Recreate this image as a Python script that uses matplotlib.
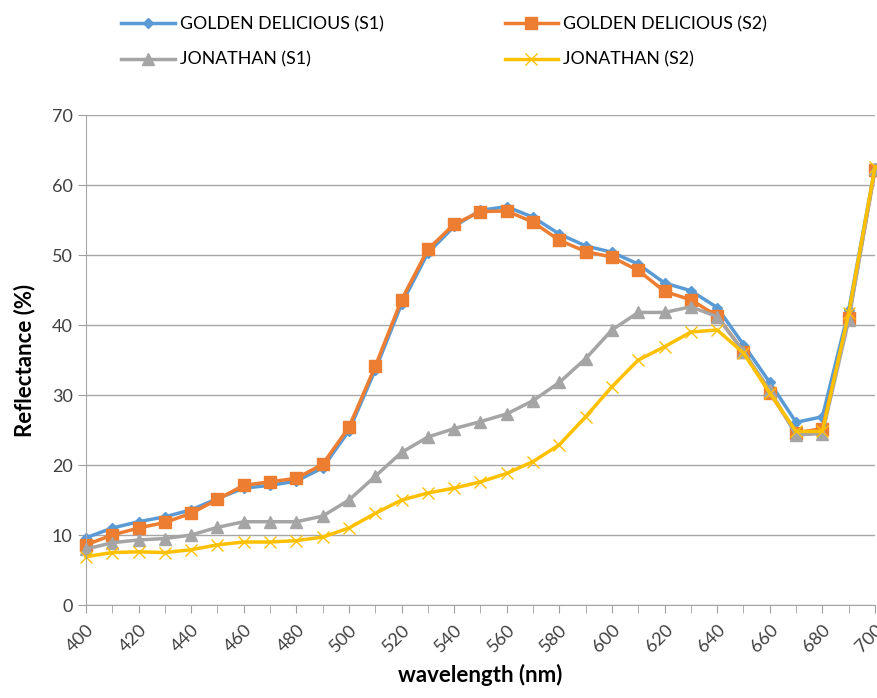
import matplotlib.pyplot as plt
import numpy as np

wavelength = list(range(400, 701, 10))

gd_s1 = [9.6, 11.0, 11.9, 12.6, 13.6, 15.2, 16.7, 17.1, 17.7, 19.6, 24.9, 33.6, 43.0, 50.3, 54.1,
         56.4, 56.9, 55.4, 53.0, 51.3, 50.4, 48.7, 46.0, 44.9, 42.5, 37.2, 31.8, 26.1, 26.9, 42.1, 62.5]
gd_s2 = [8.6, 10.0, 11.0, 11.8, 13.1, 15.1, 17.1, 17.6, 18.1, 20.1, 25.4, 34.1, 43.6, 50.8, 54.4,
         56.2, 56.3, 54.7, 52.1, 50.5, 49.7, 47.8, 44.8, 43.6, 41.3, 36.2, 30.3, 24.6, 25.2, 41.0, 62.1]
jon_s1 = [8.0, 8.9, 9.3, 9.5, 10.0, 11.1, 11.9, 11.9, 11.9, 12.7, 15.0, 18.4, 21.8, 24.0, 25.2,
          26.2, 27.3, 29.2, 31.8, 35.2, 39.3, 41.8, 41.8, 42.6, 41.2, 36.2, 30.7, 24.3, 24.5, 40.7, 62.3]
jon_s2 = [6.9, 7.5, 7.6, 7.5, 7.9, 8.6, 9.0, 9.0, 9.2, 9.7, 11.0, 13.1, 15.0, 16.0, 16.7,
          17.6, 18.8, 20.5, 22.9, 26.9, 31.2, 35.0, 36.9, 39.0, 39.3, 36.0, 30.3, 24.8, 24.8, 41.7, 62.6]

plt.rcParams['font.family'] = ['Lato', 'DejaVu Sans']

fig = plt.figure(figsize=(8.77, 6.98), dpi=100)
ax = fig.add_axes([0.098, 0.1332, 0.8997, 0.702])

ax.plot(wavelength, gd_s1, color='#5B9BD5', lw=2.5, marker='D', ms=5, label='GOLDEN DELICIOUS (S1)', clip_on=False)
ax.plot(wavelength, gd_s2, color='#ED7D31', lw=2.5, marker='s', ms=8, label='GOLDEN DELICIOUS (S2)', clip_on=False)
ax.plot(wavelength, jon_s1, color='#A5A5A5', lw=2.5, marker='^', ms=8, label='JONATHAN (S1)', clip_on=False)
ax.plot(wavelength, jon_s2, color='#FFC000', lw=2.5, marker='x', ms=8, mew=1, label='JONATHAN (S2)', clip_on=False)

ax.set_xlim(400, 700)
ax.set_ylim(0, 70)
ax.set_xticks(range(400, 701, 20))
ax.set_xticks(range(400, 701, 10), minor=True)
ax.set_yticks(range(0, 71, 10))
ax.tick_params(axis='x', which='both', length=6, pad=6, color='#A0A0A0', labelsize=13, labelrotation=45, labelcolor='#404040')
ax.tick_params(axis='y', length=6, color='#A0A0A0', labelsize=13, labelcolor='#404040')
for lab in ax.get_xticklabels():
    lab.set_ha('right')
    lab.set_va('top')
    lab.set_rotation_mode('anchor')
ax.grid(axis='y', color='#A6A6A6', lw=1)
ax.set_axisbelow(True)
for s in ['top', 'right']:
    ax.spines[s].set_visible(False)
ax.spines['left'].set_color('#A6A6A6')
ax.spines['bottom'].set_color('#A6A6A6')

ax.set_xlabel('wavelength (nm)', fontsize=16, fontweight='bold', labelpad=6)
ax.set_ylabel('Reflectance (%)', fontsize=16, fontweight='bold', labelpad=12)

h, l = ax.get_legend_handles_labels()
order = [0, 2, 1, 3]
fig.legend([h[i] for i in order], [l[i] for i in order], ncol=2, loc='upper left',
           bbox_to_anchor=(0.12, 1.0), frameon=False, fontsize=12.8, handlelength=3.0,
           columnspacing=6.8, labelspacing=1.1, handletextpad=0.3)

fig.savefig('out.png', dpi=100)
